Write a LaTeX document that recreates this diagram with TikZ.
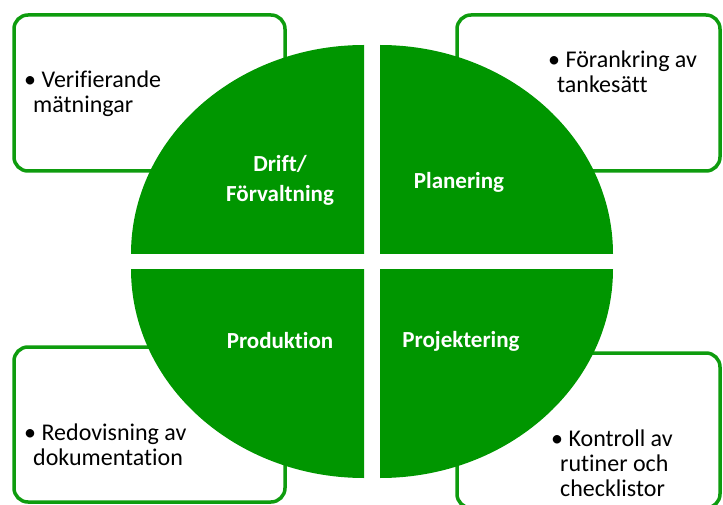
\documentclass[tikz,border=0pt]{standalone}
\usepackage{fontspec}
\setmainfont[Ligatures=NoCommon]{Carlito}
\usetikzlibrary{positioning}
\definecolor{quadgreen}{RGB}{0,150,0}
\definecolor{rutgreen}{RGB}{14,156,14}

\begin{document}
\begin{tikzpicture}[x=1pt, y=-1pt,
        ruta/.style={draw=rutgreen, line width=3.5pt, rounded corners=14pt, fill=white},
        punkt/.style={anchor=west, align=left, inner sep=0pt, font=\fontsize{24}{25}\selectfont},
        fas/.style={text=white, align=center, inner sep=0pt, font=\fontsize{23}{30}\selectfont\bfseries}]
        % Frame
        \useasboundingbox (0,0) rectangle (723,505);
        \clip (0,0) rectangle (723,505);

        % Boxes behind the circle
        \draw[ruta] (14,15) rectangle (285,171);
        \draw[ruta] (457,15) rectangle (720,171);
        \draw[ruta] (14,347) rectangle (285,502);
        \draw[ruta] (457,353) rectangle (720,508);

        % Quadrants
        \fill[quadgreen] (364,254) -- (131,254) arc[start angle=180, end angle=270, x radius=233, y radius=209] -- cycle;
        \fill[quadgreen] (380,254) -- (380,45) arc[start angle=270, end angle=360, x radius=233, y radius=209] -- cycle;
        \fill[quadgreen] (380,269) -- (613,269) arc[start angle=0, end angle=90, x radius=233, y radius=209] -- cycle;
        \fill[quadgreen] (364,269) -- (364,478) arc[start angle=90, end angle=180, x radius=233, y radius=209] -- cycle;

        % Phase labels
        \node[fas] (drift) at (280,180) {Drift/\\Förvaltning};
        \node[fas] (planering) at (459,182) {Planering};
        \node[fas] (produktion) at (280,341) {Produktion};
        \node[fas] (projektering) at (461,341) {Projektering};

        % Bullet texts
        \node[punkt] (matning) at (24,94) {\textbullet\ Verifierande\\\hspace*{9pt}mätningar};
        \node[punkt] (forankring) at (548,72) {\textbullet\ Förankring av\\\hspace*{9pt}tankesätt};
        \node[punkt] (redovisning) at (24,445) {\textbullet\ Redovisning av\\\hspace*{9pt}dokumentation};
        \node[punkt] (kontroll) at (551,463) {\textbullet\ Kontroll av\\\hspace*{9pt}rutiner och\\\hspace*{9pt}checklistor};
    \end{tikzpicture}
\end{document}
